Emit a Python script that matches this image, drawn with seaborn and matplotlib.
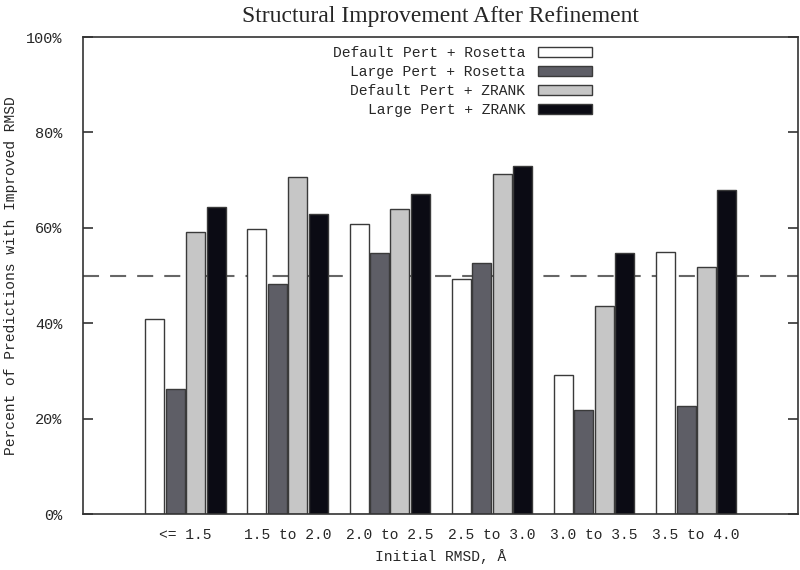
# Structural improvement after refinement - grouped bars
import pandas as pd
import matplotlib
matplotlib.use("Agg")
import matplotlib.pyplot as plt
import seaborn as sns

# Dados (percent)
categories = ["<= 1.5", "1.5 to 2.0", "2.0 to 2.5", "2.5 to 3.0", "3.0 to 3.5", "3.5 to 4.0"]
methods = ["Default Pert + Rosetta", "Large Pert + Rosetta", "Default Pert + ZRANK", "Large Pert + ZRANK"]
default_rosetta = [41.0, 59.8, 60.9, 49.2, 29.2, 54.9]
large_rosetta = [26.2, 48.2, 54.7, 52.6, 21.8, 22.6]
default_zrank = [59.1, 70.6, 64.0, 71.2, 43.7, 51.7]
large_zrank = [64.4, 62.9, 67.1, 72.9, 54.7, 67.9]
ytick_values = [0, 20, 40, 60, 80, 100]
ytick_labels = ["0%", "20%", "40%", "60%", "80%", "100%"]
threshold = 50

colors = ["#ffffff", "#5e5e66", "#c6c6c6", "#0b0b14"]

# Monta a tabela longa
series = [default_rosetta, large_rosetta, default_zrank, large_zrank]
rows = []
for m, vals in zip(methods, series):
    for c, v in zip(categories, vals):
        rows.append({"range": c, "pct": v, "method": m})
df = pd.DataFrame(rows)

sns.set_theme(style="ticks")
plt.rcParams["font.family"] = ["Liberation Mono", "DejaVu Sans Mono"]

fig = plt.figure(figsize=(8, 5.7), dpi=100)
ax = fig.add_axes([0.104, 0.098, 0.894, 0.837])

sns.barplot(data=df, x="range", y="pct", hue="method", order=categories,
            hue_order=methods, palette=colors, saturation=1, width=0.8,
            gap=0.07, edgecolor="#3a3a3a", linewidth=1, ax=ax)

# linha de 50%
ax.axhline(threshold, color="#666666", lw=1.5, ls=(0, (7.7, 5.3)), zorder=0.5)

ax.set_xlim(-1, 6)
ax.set_ylim(0, 100)
ax.set_yticks(ytick_values)
ax.set_yticklabels(ytick_labels, fontsize=11)
ax.tick_params(axis="y", direction="in", length=7, width=1.2, color="#333333",
               right=True, pad=15)
ax.tick_params(axis="x", length=0, pad=10, labelsize=10.5)
for s in ax.spines.values():
    s.set_visible(True)
    s.set_color("#333333")
    s.set_linewidth(1.2)

ax.set_xlabel("Initial RMSD, Å", fontsize=10.5, labelpad=5)
ax.set_ylabel("Percent of Predictions with Improved RMSD", fontsize=10.5, labelpad=6)
ax.set_title("Structural Improvement After Refinement", family=["Liberation Serif"],
             fontsize=17, pad=11)

# Legenda: texto a esquerda, amostra a direita
old = ax.get_legend()
handles = old.legend_handles
labels = [t.get_text() for t in old.get_texts()]
old.remove()
for h in handles:
    h.set_edgecolor("#3a3a3a")
    h.set_linewidth(1)
ax.legend(handles, labels, loc="upper right", bbox_to_anchor=(0.712, 0.981),
          frameon=False, markerfirst=False, fontsize=10.5, handlelength=3.7,
          handleheight=0.65, handletextpad=0.9, labelspacing=0.34,
          borderaxespad=0, borderpad=0)

fig.savefig("out.png", dpi=100)
